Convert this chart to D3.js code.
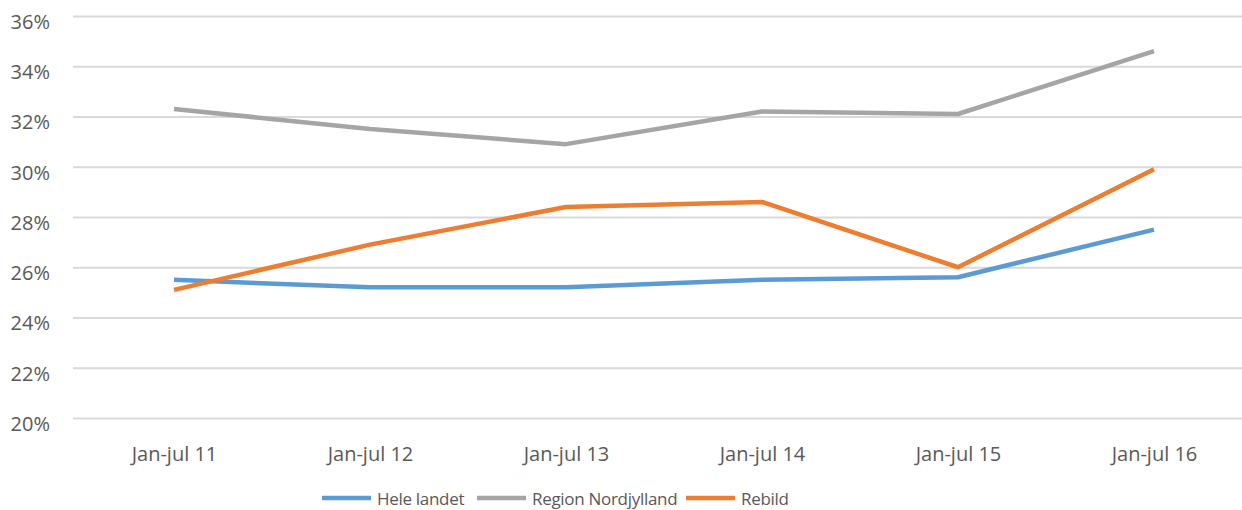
<!DOCTYPE html>
<html>
<head>
<meta charset="utf-8">
<script src="https://cdn.jsdelivr.net/npm/d3@7"></script>
<style>
  body { margin: 0; background: #fff; }
  svg text { font-family: "Open Sans", "Noto Sans", sans-serif; fill: #595959; }
</style>
</head>
<body>
<svg width="1242" height="510"></svg>
<script>
var categories = ["Jan-jul 11", "Jan-jul 12", "Jan-jul 13", "Jan-jul 14", "Jan-jul 15", "Jan-jul 16"];
var heleLandet = [25.5, 25.2, 25.2, 25.5, 25.6, 27.5];
var nordjylland = [32.3, 31.5, 30.9, 32.2, 32.1, 34.6];
var rebild = [25.1, 26.9, 28.4, 28.6, 26.0, 29.9];
var yTicks = [20, 22, 24, 26, 28, 30, 32, 34, 36];

var series = [
  {name: "Hele landet", values: heleLandet, color: "#5B9BD5"},
  {name: "Region Nordjylland", values: nordjylland, color: "#A5A5A5"},
  {name: "Rebild", values: rebild, color: "#ED7D31"}
];

var svg = d3.select("svg"),
    margin = {top: 16, right: -10, bottom: 92, left: 76},
    width = +svg.attr("width") - margin.left - margin.right,
    height = +svg.attr("height") - margin.top - margin.bottom;

var x = d3.scalePoint().domain(categories).range([0, width]).padding(0.5),
    y = d3.scaleLinear().domain([20, 36]).range([height, 0]);

var g = svg.append("g")
    .attr("transform", "translate(" + margin.left + "," + margin.top + ")");

// gridlines + y labels
g.append("g")
  .call(d3.axisLeft(y).tickValues(yTicks).tickSize(-(width + 10)).tickPadding(26)
    .tickFormat(function(d) { return d + "%"; }))
  .call(function(a) {
    a.select(".domain").remove();
    a.selectAll(".tick line").attr("stroke", "#D9D9D9").attr("stroke-width", 2).attr("transform", "translate(-3,0)");
    a.selectAll(".tick text").attr("font-size", 20).attr("dy", "0.62em").style("fill", "#595959");
  });

g.append("g")
  .attr("transform", "translate(0," + height + ")")
  .call(d3.axisBottom(x).tickSize(0).tickPadding(29))
  .call(function(a) {
    a.select(".domain").remove();
    a.selectAll(".tick text").attr("font-size", 20).style("fill", "#595959");
  });

var line = d3.line()
  .x(function(d, i) { return x(categories[i]); })
  .y(function(d) { return y(d); });

series.forEach(function(s) {
  g.append("path")
    .datum(s.values)
    .attr("fill", "none")
    .attr("stroke", s.color)
    .attr("stroke-width", 4.5)
    .attr("stroke-linejoin", "round")
    .attr("d", line);
});

// legend
var legendX = [322, 477, 686];
var legend = svg.append("g");
series.forEach(function(s, i) {
  var lg = legend.append("g").attr("transform", "translate(" + legendX[i] + ",498)");
  lg.append("line").attr("x1", 0).attr("x2", 49).attr("y1", 0).attr("y2", 0)
    .attr("stroke", s.color).attr("stroke-width", 4.5);
  lg.append("text").attr("x", 55).attr("y", 7).attr("font-size", 17)
    .attr("letter-spacing", -0.3).text(s.name);
});
</script>
</body>
</html>
